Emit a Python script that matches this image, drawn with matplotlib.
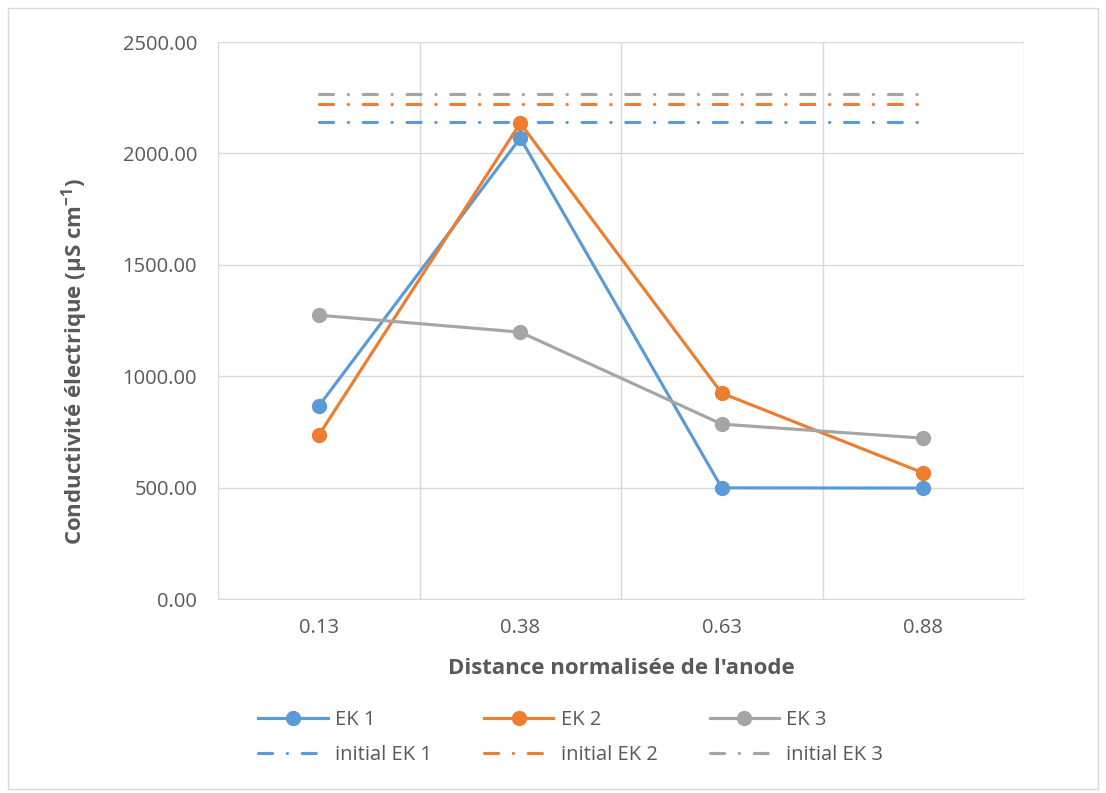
import matplotlib.pyplot as plt
from matplotlib.patches import Rectangle
import numpy as np

categories = ['0.13', '0.38', '0.63', '0.88']
ek1 = [866, 2069, 499, 498]
ek2 = [735, 2136, 924, 566]
ek3 = [1274, 1198, 785, 722]
initial_ek1 = 2141
initial_ek2 = 2222
initial_ek3 = 2268

colors = ['#5B9BD5', '#ED7D31', '#A5A5A5']
txt = '#595959'
grid = '#D9D9D9'


def main():
    plt.rcParams['font.family'] = ['Open Sans', 'DejaVu Sans']
    fig = plt.figure(figsize=(11.06, 7.93), dpi=100)
    fig.patches.append(Rectangle((0.007, 0.005), 0.986, 0.985, transform=fig.transFigure,
                                 fill=False, edgecolor=grid, lw=1))
    ax = fig.add_axes([0.1971, 0.2446, 0.7288, 0.7024])

    x = np.arange(len(categories))
    dashdot = (0, (4.5, 4.7, 0.1, 4.7))
    handles = []
    for vals, init, c, n in zip([ek1, ek2, ek3], [initial_ek1, initial_ek2, initial_ek3], colors, [1, 2, 3]):
        l1, = ax.plot(x, vals, color=c, lw=2.25, marker='o', ms=10, label='EK %d' % n, zorder=3)
        l2, = ax.plot(x, [init] * len(x), color=c, lw=2.25, linestyle=dashdot,
                      dash_capstyle='round', label='initial EK %d' % n, zorder=2)
        handles += [l1, l2]

    ax.set_xlim(-0.5, 3.5)
    ax.set_ylim(0, 2500)
    ax.set_yticks(np.arange(0, 2501, 500))
    ax.set_yticklabels(['%.2f' % v for v in np.arange(0, 2501, 500)])
    ax.set_xticks(x)
    ax.set_xticklabels(categories)
    ax.grid(axis='y', color=grid, lw=1)
    for b in np.arange(-0.5, 3.6, 1):
        ax.axvline(b, color=grid, lw=1, zorder=0)
    ax.set_axisbelow(True)
    for s in ['top', 'right', 'left']:
        ax.spines[s].set_visible(False)
    ax.spines['bottom'].set_color(grid)
    ax.tick_params(length=0, labelsize=14.5, colors=txt)
    ax.tick_params(axis='x', pad=14)
    ax.tick_params(axis='y', pad=15)

    ax.set_xlabel("Distance normalisée de l'anode", fontsize=16, fontweight='bold', color=txt)
    ax.set_ylabel("Conductivité électrique (µS cm$^{\\mathregular{-1}}$)", fontsize=16, fontweight='bold', color=txt)
    ax.xaxis.set_label_coords(0.5, -0.106)
    ax.yaxis.set_label_coords(-0.159, 0.4255)

    fig.legend(handles=handles, loc='center', bbox_to_anchor=(0.516, 0.07), ncol=3, frameon=False,
               fontsize=14.5, handlelength=3.45, columnspacing=2.6, labelcolor=txt,
               handletextpad=0.35, labelspacing=0.75)

    fig.savefig('out.png', dpi=100)


if __name__ == "__main__":
    main()
